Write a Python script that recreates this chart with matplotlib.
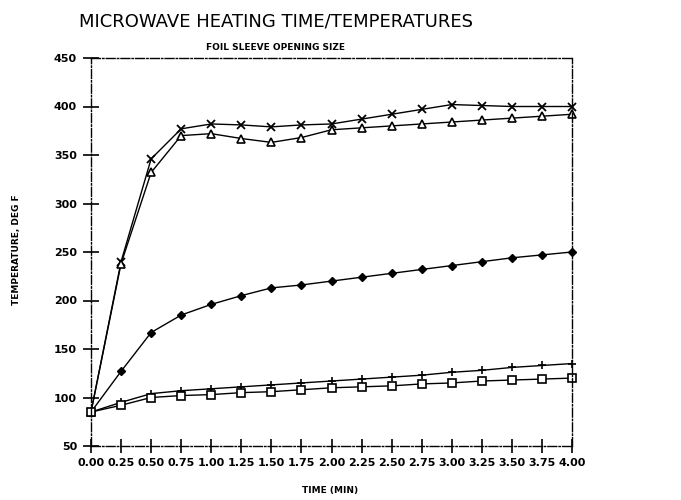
import matplotlib
matplotlib.use("Agg")
import matplotlib.pyplot as plt

# time points (min)
times = [0.00, 0.25, 0.50, 0.75, 1.00, 1.25, 1.50, 1.75, 2.00,
         2.25, 2.50, 2.75, 3.00, 3.25, 3.50, 3.75, 4.00]
tick_labels = ["0.00", "0.25", "0.50", "0.75", "1.00", "1.25", "1.50", "1.75", "2.00",
               "2.25", "2.50", "2.75", "3.00", "3.25", "3.50", "3.75", "4.00"]

# temperatures (deg F) per foil sleeve opening
temp_x = [85, 240, 346, 377, 382, 381, 379, 381, 382, 387, 392, 397, 402, 401, 400, 400, 400]
temp_tri = [85, 238, 332, 370, 372, 367, 363, 368, 376, 378, 380, 382, 384, 386, 388, 390, 392]
temp_diamond = [85, 127, 167, 185, 196, 205, 213, 216, 220, 224, 228, 232, 236, 240, 244, 247, 250]
temp_plus = [85, 95, 104, 107, 109, 111, 113, 115, 117, 119, 121, 123, 126, 128, 131, 133, 135]
temp_square = [85, 92, 100, 102, 103, 105, 106, 108, 110, 111, 112, 114, 115, 117, 118, 119, 120]

y_ticks = [50, 100, 150, 200, 250, 300, 350, 400, 450]

fig = plt.figure(figsize=(6.81, 5.0), dpi=100)
ax = fig.add_axes([91 / 681, 54 / 500, 481 / 681, 388 / 500])

ax.plot(times, temp_x, color="black", linewidth=1.0, marker="x", markersize=6,
        markeredgewidth=1.3, clip_on=False)
ax.plot(times, temp_tri, color="black", linewidth=1.0, marker="^", markersize=5.5,
        markerfacecolor="white", markeredgewidth=1.2, clip_on=False)
ax.plot(times, temp_diamond, color="black", linewidth=1.0, marker="D", markersize=4.5,
        clip_on=False)
ax.plot(times, temp_plus, color="black", linewidth=1.0, marker="+", markersize=6,
        markeredgewidth=1.2, clip_on=False)
ax.plot(times, temp_square, color="black", linewidth=1.0, marker="s", markersize=5.5,
        markerfacecolor="white", markeredgewidth=1.2, clip_on=False)

ax.set_xlim(0, 4)
ax.set_ylim(50, 450)
ax.set_xticks(times)
ax.set_xticklabels(tick_labels)
ax.set_yticks(y_ticks)

for side in ["top", "bottom", "left", "right"]:
    ax.spines[side].set_linestyle("-.")
    ax.spines[side].set_linewidth(1.0)

ax.tick_params(axis="x", direction="inout", length=10, width=1.2, pad=4)
ax.tick_params(axis="y", direction="inout", length=12, width=1.2, pad=4)
for lbl in ax.get_xticklabels() + ax.get_yticklabels():
    lbl.set_fontsize(8)
    lbl.set_fontweight("bold")

fig.text(276 / 681, 1 - 22 / 500, "MICROWAVE HEATING TIME/TEMPERATURES",
         ha="center", va="center", fontsize=13)
fig.text(276 / 681, 1 - 47 / 500, "FOIL SLEEVE OPENING SIZE",
         ha="center", va="center", fontsize=6.5, fontweight="bold")
fig.text(330 / 681, 1 - 490 / 500, "TIME (MIN)",
         ha="center", va="center", fontsize=6.5, fontweight="bold")
fig.text(17 / 681, 1 - 250 / 500, "TEMPERATURE, DEG F",
         ha="center", va="center", rotation=90, fontsize=6.5, fontweight="bold")

fig.savefig("out.png", dpi=100)
plt.close(fig)
